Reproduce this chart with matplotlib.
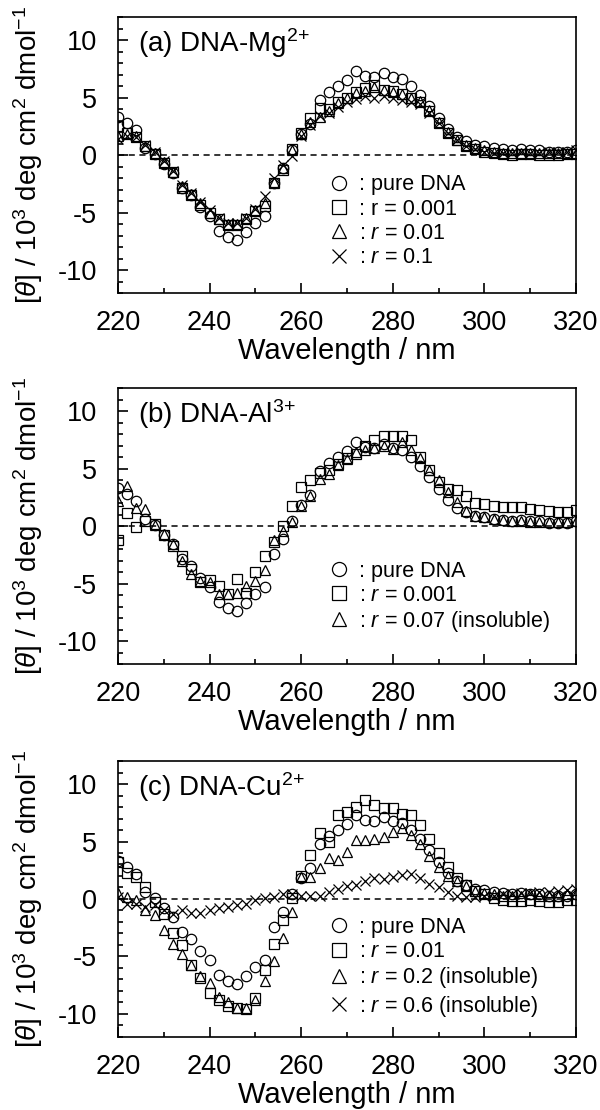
import matplotlib
matplotlib.use('Agg')
import matplotlib.pyplot as plt
import numpy as np
from matplotlib.ticker import MultipleLocator

plt.rcParams['font.family'] = ['Liberation Sans', 'DejaVu Sans']
plt.rcParams['mathtext.fontset'] = 'custom'
plt.rcParams['mathtext.rm'] = 'Liberation Sans'
plt.rcParams['mathtext.it'] = 'Liberation Sans:italic'
plt.rcParams['mathtext.bf'] = 'Liberation Sans:bold'
plt.rcParams['axes.unicode_minus'] = False

# measurement grid, 2 nm steps
wavelength = np.arange(220, 322, 2)

pure_dna = [3.3, 2.8, 2.2, 0.6, 0.1, -0.8, -1.6, -2.9, -3.5, -4.5,
            -5.3, -6.6, -7.1, -7.4, -6.7, -5.9, -5.3, -2.4, -1.1, 0.4,
            1.8, 2.7, 4.8, 5.5, 6.0, 6.5, 7.3, 6.9, 6.8, 7.1,
            6.8, 6.6, 6.0, 5.2, 4.3, 3.2, 2.3, 1.6, 1.2, 0.9,
            0.8, 0.6, 0.5, 0.4, 0.5, 0.4, 0.4, 0.3, 0.3, 0.3, 0.4]

# (a) DNA-Mg2+
mg_r0001 = [2.5, 1.9, 1.6, 0.8, 0.1, -0.7, -1.5, -2.9, -3.5, -4.3,
            -5.0, -5.6, -6.1, -6.1, -5.6, -4.9, -4.4, -2.4, -1.3, 0.5,
            1.9, 3.2, 4.1, 4.0, 4.6, 5.0, 5.5, 5.8, 6.1, 5.7,
            5.6, 5.3, 5.0, 4.6, 3.8, 2.8, 1.9, 1.3, 0.8, 0.5,
            0.3, 0.2, 0.1, 0.0, 0.1, 0.1, 0.0, 0.0, 0.0, 0.1, 0.1]
mg_r001 = [1.7, 1.8, 1.7, 0.8, 0.2, -0.6, -1.5, -2.7, -3.4, -4.2,
           -5.0, -5.6, -6.0, -6.0, -5.5, -4.8, -4.2, -2.3, -1.1, 0.4,
           1.8, 2.9, 3.3, 3.8, 4.5, 5.0, 5.4, 5.6, 5.9, 5.7,
           5.5, 5.3, 5.0, 4.7, 3.9, 2.9, 2.0, 1.3, 0.9, 0.6,
           0.4, 0.3, 0.2, 0.2, 0.2, 0.2, 0.2, 0.2, 0.2, 0.2, 0.2]
mg_r01 = [1.4, 1.7, 1.6, 0.9, 0.3, -0.5, -1.4, -2.6, -3.3, -4.1,
          -4.8, -5.5, -5.9, -5.9, -5.5, -4.7, -3.6, -2.0, -0.9, -0.1,
          1.7, 2.6, 3.4, 3.7, 4.2, 4.6, 4.9, 5.1, 5.0, 5.1,
          5.0, 4.8, 4.6, 4.4, 3.7, 2.8, 1.9, 1.3, 0.8, 0.5,
          0.3, 0.2, 0.2, 0.2, 0.3, 0.2, 0.2, 0.3, 0.3, 0.3, 0.4]

# (b) DNA-Al3+
al_r0001 = [-1.2, 1.1, -0.1, 0.4, 0.2, -0.8, -1.7, -2.6, -3.7, -4.9,
            -4.7, -5.2, -5.9, -4.6, -5.8, -4.0, -2.6, -1.4, 0.0, 1.7,
            3.4, 4.0, 4.6, 4.9, 5.4, 5.9, 6.3, 7.0, 7.5, 7.8,
            7.8, 7.8, 7.5, 6.0, 4.9, 3.8, 3.2, 3.1, 2.6, 2.0,
            1.9, 1.7, 1.65, 1.65, 1.65, 1.5, 1.4, 1.3, 1.2, 1.2, 1.4]
al_r007 = [2.2, 3.5, 1.6, 1.5, 0.1, -0.7, -1.6, -3.0, -4.2, -4.8,
           -4.9, -5.9, -5.9, -5.8, -5.2, -4.8, -3.8, -1.2, -0.4, 0.35,
           1.7, 2.6, 4.1, 4.5, 5.3, 5.8, 6.4, 6.65, 6.8, 7.0,
           6.7, 7.3, 6.6, 5.9, 4.85, 4.0, 3.0, 2.1, 1.3, 0.85,
           0.75, 0.65, 0.5, 0.4, 0.4, 0.35, 0.35, 0.35, 0.35, 0.35, 0.4]

# (c) DNA-Cu2+
cu_r001 = [3.2, 2.3, 1.9, 1.0, -0.3, -1.3, -3.0, -4.0, -5.7, -6.9,
           -8.2, -8.8, -9.3, -9.5, -9.6, -8.6, -6.2, -3.9, -1.8, 0.1,
           2.0, 3.8, 5.7, 5.0, 7.3, 7.6, 8.0, 8.6, 8.2, 7.9,
           7.9, 7.4, 7.3, 6.4, 5.2, 4.0, 2.8, 1.8, 1.2, 0.7,
           0.4, 0.1, -0.1, -0.2, -0.2, -0.1, -0.2, -0.3, -0.3, -0.1, -0.1]
cu_r02 = [0.5, 0.2, -0.1, -1.0, -1.4, -2.7, -3.9, -4.8, -5.7, -6.7,
          -7.3, -8.5, -9.0, -9.5, -9.5, -8.8, -7.1, -5.4, -3.4, -1.1,
          1.9, 1.9, 2.7, 3.6, 3.4, 4.1, 5.1, 5.1, 5.2, 5.4,
          5.8, 6.2, 5.6, 4.8, 3.7, 2.8, 2.0, 1.6, 1.1, 0.7,
          0.5, 0.4, 0.3, 0.3, 0.3, 0.4, 0.3, 0.3, 0.3, 0.4, 0.4]
cu_r06 = [0.2, -0.4, -0.4, -0.7, -0.5, -1.0, -1.3, -1.0, -1.2, -1.2,
          -1.0, -0.8, -0.7, -0.5, -0.4, -0.1, 0.1, 0.2, 0.4, 0.4,
          0.3, 0.3, 0.3, 0.6, 0.9, 1.1, 1.2, 1.6, 1.8, 1.7,
          1.9, 2.1, 2.2, 1.8, 1.3, 1.0, 0.6, 0.3, 0.2, 0.2,
          0.3, 0.3, 0.4, 0.4, 0.5, 0.5, 0.6, 0.6, 0.7, 0.8, 0.9]

markers = ['o', 's', '^', 'x']

panels = [
    (r'(a) DNA-Mg$^{2\!+}$', [pure_dna, mg_r0001, mg_r001, mg_r01],
     [': pure DNA', ': r = 0.001', ': $r$ = 0.01', ': $r$ = 0.1'], 0.43),
    (r'(b) DNA-Al$^{3\!+}$', [pure_dna, al_r0001, al_r007],
     [': pure DNA', ': $r$ = 0.001', ': $r$ = 0.07 (insoluble)'], 0.375),
    (r'(c) DNA-Cu$^{2\!+}$', [pure_dna, cu_r001, cu_r02, cu_r06],
     [': pure DNA', ': $r$ = 0.01', ': $r$ = 0.2 (insoluble)',
      ': $r$ = 0.6 (insoluble)'], 0.435),
]
bottoms = [0.736, 0.4018, 0.0658]

fig = plt.figure(figsize=(6, 11.1), dpi=100)

for (title, series, labels, leg_y), b in zip(panels, bottoms):
    ax = fig.add_axes([0.1967, b, 0.7633, 0.2486])
    ax.axhline(0, color='k', ls=(0, (4, 3)), lw=1.1, zorder=1)
    for vals, m, lab in zip(series, markers, labels):
        ax.plot(wavelength, vals, ls='none', marker=m, ms=7.5, mfc='none',
                mec='k', mew=0.9, label=lab, zorder=3)
    ax.set_xlim(220, 320)
    ax.set_ylim(-12, 12)
    ax.xaxis.set_major_locator(MultipleLocator(20))
    ax.xaxis.set_minor_locator(MultipleLocator(10))
    ax.yaxis.set_major_locator(MultipleLocator(5))
    ax.yaxis.set_minor_locator(MultipleLocator(1))
    ax.tick_params(which='both', direction='in', top=False, right=False,
                   width=1.2, labelsize=19.5)
    ax.tick_params(axis='x', which='both', pad=12)
    ax.tick_params(axis='y', which='both', pad=15)
    ax.tick_params(which='major', length=7)
    ax.tick_params(which='minor', length=3.6)
    for sp in ax.spines.values():
        sp.set_linewidth(1.2)
    ax.set_xlabel('Wavelength / nm', fontsize=21, labelpad=1)
    ax.set_ylabel(r'[$\theta$] / 10$^3$ deg cm$^2$ dmol$^{-1}$', fontsize=20,
                  labelpad=9)
    ax.text(0.044, 0.905, title, transform=ax.transAxes, fontsize=20,
            va='center', ha='left')
    ax.legend(loc='upper left', bbox_to_anchor=(0.46, leg_y), frameon=False,
              fontsize=15.5, handlelength=1.0, handletextpad=0.4,
              labelspacing=0.15, borderpad=0, borderaxespad=0,
              markerscale=1.35)

fig.savefig('out.png', dpi=100)
